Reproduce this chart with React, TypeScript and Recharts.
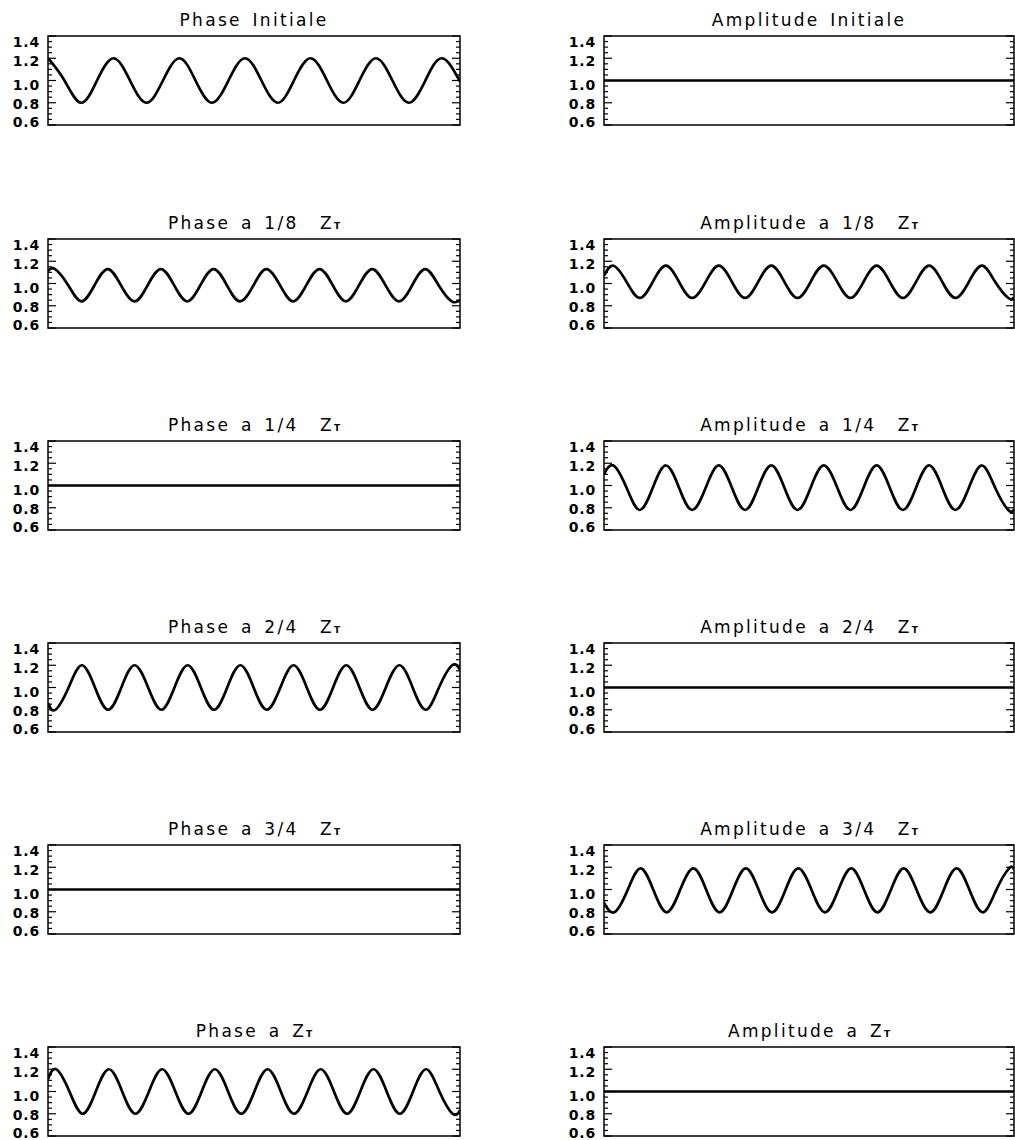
import React from 'react';
import { LineChart, Line, XAxis, YAxis, ReferenceArea } from 'recharts';

// x axis carries no labels, only ticks; y axis is shared by all panels
const xTicks = [0, 5, 10, 15, 20, 25, 30, 35, 40, 45, 50, 55, 60, 65, 70, 75, 80, 85, 90, 95, 100];
const yTicks = [0.6, 0.65, 0.7, 0.75, 0.8, 0.85, 0.9, 0.95, 1.0, 1.05, 1.1, 1.15, 1.2, 1.25, 1.3, 1.35, 1.4];

const flatX = [0, 100];
const flatY = [1.0, 1.0];

const phaseInitX = [0, 4.0, 8.0, 11.9, 15.9, 19.9, 23.9, 27.9, 31.9, 35.8, 39.8, 43.8, 47.8, 51.8, 55.8, 59.7, 63.7, 67.7, 71.7, 75.6, 79.6, 83.6, 87.6, 91.6, 95.6, 100];
const phaseInitY = [1.2, 1.0, 0.8, 1.0, 1.2, 1.0, 0.8, 1.0, 1.2, 1.0, 0.8, 1.0, 1.2, 1.0, 0.8, 1.0, 1.2, 1.0, 0.8, 1.0, 1.2, 1.0, 0.8, 1.0, 1.2, 0.99];

const phase18X = [0, 1.7, 4.9, 8.1, 11.3, 14.5, 17.7, 21.0, 24.2, 27.4, 30.6, 33.8, 37.0, 40.2, 43.4, 46.6, 49.9, 53.0, 56.3, 59.5, 62.7, 65.9, 69.1, 72.3, 75.5, 78.7, 81.9, 85.2, 88.4, 91.6, 94.8, 98.0, 100];
const phase18Y = [1.11,
  1.13, 0.985, 0.84, 0.985, 1.13, 0.985, 0.84, 0.985, 1.13, 0.985, 0.84, 0.985, 1.13, 0.985, 0.84, 0.985,
  1.13, 0.985, 0.84, 0.985, 1.13, 0.985, 0.84, 0.985, 1.13, 0.985, 0.84, 0.985, 1.13, 0.985, 0.84,
  0.85];

const amp18X = [0, 2.3, 5.5, 8.7, 11.9, 15.1, 18.3, 21.5, 24.8, 28.0, 31.2, 34.4, 37.6, 40.8, 44.0, 47.2, 50.4, 53.6, 56.9, 60.1, 63.3, 66.5, 69.7, 72.9, 76.1, 79.3, 82.5, 85.7, 89.0, 92.2, 95.4, 98.6, 100];
const amp18Y = [1.07,
  1.16, 1.015, 0.87, 1.015, 1.16, 1.015, 0.87, 1.015, 1.16, 1.015, 0.87, 1.015, 1.16, 1.015, 0.87, 1.015,
  1.16, 1.015, 0.87, 1.015, 1.16, 1.015, 0.87, 1.015, 1.16, 1.015, 0.87, 1.015, 1.16, 1.015, 0.87,
  0.875];

const amp14X = [0, 2.3, 5.5, 8.7, 11.9, 15.1, 18.3, 21.5, 24.8, 28.0, 31.2, 34.4, 37.6, 40.8, 44.0, 47.2, 50.4, 53.6, 56.9, 60.1, 63.3, 66.5, 69.7, 72.9, 76.1, 79.3, 82.5, 85.7, 89.0, 92.2, 95.4, 98.6, 100];
const amp14Y = [1.1,
  1.18, 0.98, 0.78, 0.98, 1.18, 0.98, 0.78, 0.98, 1.18, 0.98, 0.78, 0.98, 1.18, 0.98, 0.78, 0.98,
  1.18, 0.98, 0.78, 0.98, 1.18, 0.98, 0.78, 0.98, 1.18, 0.98, 0.78, 0.98, 1.18, 0.98, 0.78,
  0.785];

const phase24X = [0, 1.8, 5.0, 8.2, 11.4, 14.6, 17.8, 21.0, 24.3, 27.5, 30.7, 33.9, 37.1, 40.3, 43.5, 46.7, 49.9, 53.1, 56.4, 59.6, 62.8, 66.0, 69.2, 72.4, 75.6, 78.8, 82.0, 85.3, 88.5, 91.7, 94.9, 98.1, 100];
const phase24Y = [0.86,
  0.8, 1.0, 1.2, 1.0, 0.8, 1.0, 1.2, 1.0, 0.8, 1.0, 1.2, 1.0, 0.8, 1.0, 1.2, 1.0,
  0.8, 1.0, 1.2, 1.0, 0.8, 1.0, 1.2, 1.0, 0.8, 1.0, 1.2, 1.0, 0.8, 1.0, 1.2,
  1.16];

const amp34X = [0, 2.5, 5.7, 8.9, 12.1, 15.3, 18.5, 21.8, 25.0, 28.2, 31.4, 34.6, 37.8, 41.0, 44.2, 47.4, 50.7, 53.9, 57.1, 60.3, 63.5, 66.7, 69.9, 73.1, 76.3, 79.6, 82.8, 86.0, 89.2, 92.4, 95.6, 98.8, 100];
const amp34Y = [0.88,
  0.795, 0.99, 1.19, 0.99, 0.795, 0.99, 1.19, 0.99, 0.795, 0.99, 1.19, 0.99, 0.795, 0.99, 1.19, 0.99,
  0.795, 0.99, 1.19, 0.99, 0.795, 0.99, 1.19, 0.99, 0.795, 0.99, 1.19, 0.99, 0.795, 0.99, 1.19,
  1.18];

const phaseZX = [0, 2.0, 5.2, 8.4, 11.6, 14.8, 18.0, 21.2, 24.5, 27.7, 30.9, 34.1, 37.3, 40.5, 43.7, 46.9, 50.1, 53.3, 56.5, 59.7, 63.0, 66.2, 69.4, 72.6, 75.8, 79.0, 82.2, 85.4, 88.6, 91.8, 95.0, 98.2, 100];
const phaseZY = [1.11,
  1.2, 1.0, 0.8, 1.0, 1.2, 1.0, 0.8, 1.0, 1.2, 1.0, 0.8, 1.0, 1.2, 1.0, 0.8, 1.0,
  1.2, 1.0, 0.8, 1.0, 1.2, 1.0, 0.8, 1.0, 1.2, 1.0, 0.8, 1.0, 1.2, 1.0, 0.8,
  0.83];

const leftTitles = ['Phase Initiale', 'Phase a 1/8  Z', 'Phase a 1/4  Z', 'Phase a 2/4  Z', 'Phase a 3/4  Z', 'Phase a Z'];
const rightTitles = ['Amplitude Initiale', 'Amplitude a 1/8  Z', 'Amplitude a 1/4  Z', 'Amplitude a 2/4  Z', 'Amplitude a 3/4  Z', 'Amplitude a Z'];
const titleSubs = ['', 'T', 'T', 'T', 'T', 'T'];

const leftSeries = [[phaseInitX, phaseInitY], [phase18X, phase18Y], [flatX, flatY], [phase24X, phase24Y], [flatX, flatY], [phaseZX, phaseZY]];
const rightSeries = [[flatX, flatY], [amp18X, amp18Y], [amp14X, amp14Y], [flatX, flatY], [amp34X, amp34Y], [flatX, flatY]];

const rowTops = [36, 239, 441, 643, 845, 1047];
const PLOT_H = 89;
const FONT = '"DejaVu Sans", Verdana, sans-serif';

// IDL squeezes the end labels toward the inside of the box
const labelShift: Record<number, number> = { 140: 6, 120: 3, 100: 4, 80: 1, 60: -3 };

const YTick = (props: any) => {
  const { x, y, payload, w } = props;
  const k = Math.round(payload.value * 100);
  const major = k % 20 === 0;
  const len = major ? 8 : 4;
  return (
    <g>
      <line x1={x} x2={x + len} y1={y} y2={y} stroke="#000" strokeWidth={1.2} />
      <line x1={x + w} x2={x + w - len} y1={y} y2={y} stroke="#000" strokeWidth={1.2} />
      {major && (
        <text
          x={x - 8}
          y={y + (labelShift[k] || 0)}
          textAnchor="end"
          dominantBaseline="central"
          fontFamily={FONT}
          fontWeight="bold"
          fontSize={14}
          letterSpacing={0.8}
          fill="#000"
        >
          {payload.value.toFixed(1)}
        </text>
      )}
    </g>
  );
};

const XTick = (props: any) => {
  const { x, y, payload } = props;
  const major = payload.value % 20 === 0;
  const len = major ? 4 : 2;
  return (
    <g>
      <line x1={x} x2={x} y1={y} y2={y - len} stroke="#000" strokeWidth={1.2} />
      <line x1={x} x2={x} y1={y - PLOT_H} y2={y - PLOT_H + len} stroke="#000" strokeWidth={1.2} />
    </g>
  );
};

interface PanelProps {
  title: string;
  sub: string;
  xs: number[];
  ys: number[];
  left: number;
  top: number;
  width: number;
}

const Panel: React.FC<PanelProps> = ({ title, sub, xs, ys, left, top, width }) => {
  const rows = xs.map((x, i) => ({ x, y: ys[i] }));
  return (
    <>
      <div
        style={{
          position: 'absolute',
          left,
          top: top - 26,
          width,
          textAlign: 'center',
          fontFamily: FONT,
          fontSize: 17,
          lineHeight: '20px',
          letterSpacing: 2.3,
          wordSpacing: 3,
          whiteSpace: 'pre',
          color: '#000',
        }}
      >
        {title}
        {sub && <span style={{ fontSize: 9, fontWeight: 'bold', letterSpacing: 0 }}>{sub}</span>}
      </div>
      <div style={{ position: 'absolute', left: left - 50, top: top - 5 }}>
        <LineChart width={width + 58} height={PLOT_H + 10} data={rows} margin={{ top: 5, right: 8, bottom: 5, left: 10 }}>
          <XAxis
            dataKey="x"
            type="number"
            domain={[0, 100]}
            ticks={xTicks}
            interval={0}
            height={0}
            axisLine={false}
            tickLine={false}
            tickSize={0}
            tickMargin={0}
            tick={(p: any) => <XTick {...p} />}
            allowDataOverflow
          />
          <YAxis
            type="number"
            domain={[0.6, 1.4]}
            ticks={yTicks}
            interval={0}
            width={40}
            axisLine={false}
            tickLine={false}
            tickSize={0}
            tickMargin={0}
            tick={(p: any) => <YTick {...p} w={width} />}
            allowDataOverflow
          />
          <ReferenceArea x1={0} x2={100} y1={0.6} y2={1.4} fill="none" stroke="#000" strokeWidth={1.5} />
          <Line
            type="natural"
            dataKey="y"
            stroke="#000"
            strokeWidth={2.7}
            dot={false}
            isAnimationActive={false}
          />
        </LineChart>
      </div>
    </>
  );
};

export default function App() {
  return (
    <div style={{ position: 'absolute', left: 0, top: 0, width: 1015, height: 1140, overflow: 'hidden', background: '#fff' }}>
      {rowTops.map((top, i) => (
        <React.Fragment key={i}>
          <Panel title={leftTitles[i]} sub={titleSubs[i]} xs={leftSeries[i][0]} ys={leftSeries[i][1]} left={48} top={top} width={412} />
          <Panel title={rightTitles[i]} sub={titleSubs[i]} xs={rightSeries[i][0]} ys={rightSeries[i][1]} left={604} top={top} width={410} />
        </React.Fragment>
      ))}
    </div>
  );
}
